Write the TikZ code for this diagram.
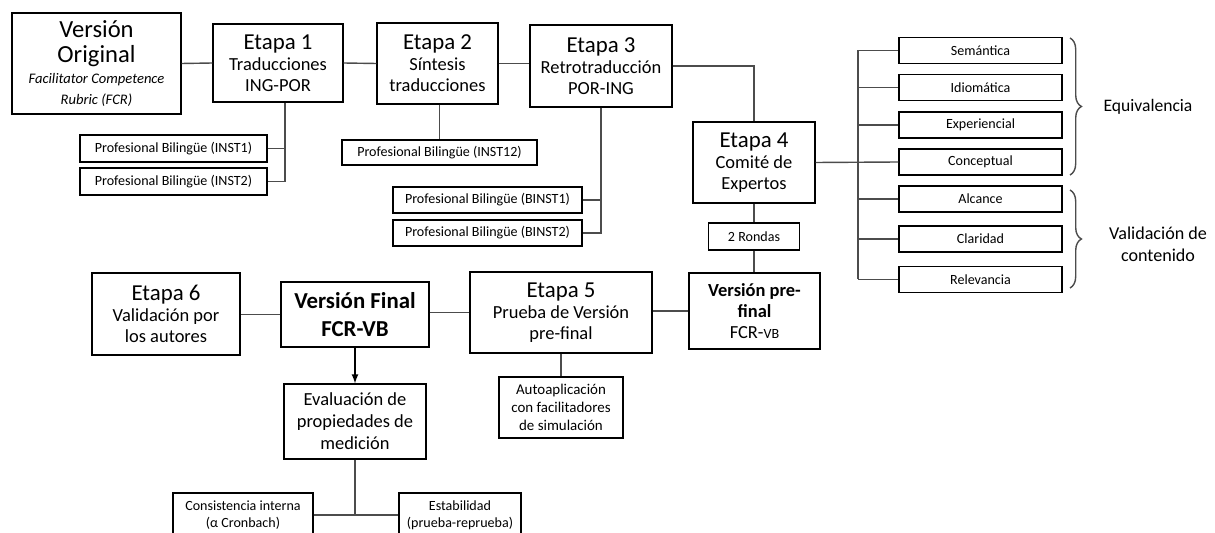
\documentclass[tikz,border=0pt]{standalone}
\usepackage{fontspec}
\setmainfont{Carlito}
\usetikzlibrary{decorations.pathreplacing}

\newcommand\etapafont{\fontsize{13}{15.5}\selectfont}
\newcommand\origfont{\fontsize{14}{16.5}\selectfont}
\newcommand\textofont{\fontsize{10.5}{12.5}\selectfont}
\newcommand\notafont{\fontsize{8}{9.6}\selectfont}

\begin{document}
\begin{tikzpicture}[x=0.02cm, y=-0.02cm,
    caja/.style={draw, line width=0.6pt, align=center, inner sep=1pt},
    tam/.style 2 args={minimum width=#1*0.02cm, minimum height=#2*0.02cm},
    linea/.style={draw=black!70, line width=0.8pt},
    llave/.style={draw=black!70, line width=0.8pt, decorate, decoration={brace, amplitude=6.5pt}}]

	\useasboundingbox (0,0) rectangle (1215,533);
	\clip (0,0) rectangle (1215,533);

	% etapas 1 a 3
	\node[caja, tam={169}{101}] (orig) at (96.5,63.5) {\origfont Versión\\[2pt] \origfont Original\\ \fontsize{8.3}{9.6}\selectfont\itshape Facilitator Competence\\ \fontsize{8.3}{9.6}\selectfont\itshape Rubric (FCR)};
	\node[caja, tam={130}{78}] (e1) at (278,63) {\etapafont Etapa 1\\ \textofont Traducciones\\ \textofont ING-POR};
	\node[caja, tam={121}{81}] (e2) at (437.5,63.5) {\etapafont Etapa 2\\ \textofont Síntesis\\ \textofont traducciones};
	\node[caja, tam={142}{82}] (e3) at (601,66) {\etapafont Etapa 3\\ \textofont Retrotraducción\\ \textofont POR-ING};

	% profesionales
	\node[caja, tam={187}{27}, font=\notafont] (inst1) at (173.5,148.5) {Profesional Bilingüe (INST1)};
	\node[caja, tam={187}{27}, font=\notafont] (inst2) at (173.5,181.5) {Profesional Bilingüe (INST2)};
	\node[caja, tam={195}{25}, font=\notafont] (inst12) at (439.5,152.5) {Profesional Bilingüe (INST12)};
	\node[caja, tam={189}{26}, font=\notafont] (binst1) at (487.5,200) {Profesional Bilingüe (BINST1)};
	\node[caja, tam={189}{26}, font=\notafont] (binst2) at (487.5,233) {Profesional Bilingüe (BINST2)};

	% etapa 4 y comite
	\node[caja, tam={122}{81}] (e4) at (754,162.5) {\etapafont Etapa 4\\ \textofont Comité de\\ \textofont Expertos};
	\node[caja, tam={91}{27}, font=\notafont] (rondas) at (754,236.5) {2 Rondas};
	\node[caja, tam={131}{76}] (pre) at (754.5,311) {\textofont\bfseries Versión pre-\\ \textofont\bfseries final\\ \textofont FCR-{\notafont VB}};

	% criterios
	\node[caja, tam={163}{26}, font=\notafont] (sem) at (980.5,50.5) {Semántica};
	\node[caja, tam={163}{26}, font=\notafont] (idio) at (980.5,87.5) {Idiomática};
	\node[caja, tam={163}{26}, font=\notafont] (expe) at (980.5,125) {Experiencial};
	\node[caja, tam={163}{26}, font=\notafont] (conc) at (980.5,162) {Conceptual};
	\node[caja, tam={163}{26}, font=\notafont] (alc) at (980.5,199) {Alcance};
	\node[caja, tam={163}{26}, font=\notafont] (clar) at (980.5,239) {Claridad};
	\node[caja, tam={163}{26}, font=\notafont] (rel) at (980.5,279.5) {Relevancia};
	\node[font=\fontsize{10}{12}\selectfont] (equiv) at (1148,107) {Equivalencia};
	\node[font=\fontsize{10.3}{12.5}\selectfont, align=center] (valid) at (1158,244) {Validación de\\contenido};

	% etapas 5 y 6
	\node[caja, tam={182}{81}] (e5) at (561,312.5) {\etapafont Etapa 5\\ \textofont Prueba de Versión\\ \textofont pre-final};
	\node[caja, tam={124}{61}, font=\fontsize{8.5}{10.2}\selectfont] (auto) at (561,407.5) {Autoaplicación\\con facilitadores\\de simulación};
	\node[caja, tam={148}{65}, font=\etapafont\bfseries] (vf) at (355,314.5) {Versión Final\\FCR-VB};
	\node[caja, tam={148}{82}] (e6) at (166,314) {\etapafont Etapa 6\\ \textofont Validación por\\ \textofont los autores};
	\node[caja, tam={142}{75}, font=\textofont] (eval) at (355,421.5) {Evaluación de\\propiedades de\\medición};
	\node[caja, tam={140}{44}, font=\notafont] (cons) at (243,515) {Consistencia interna\\(α Cronbach)};
	\node[caja, tam={122}{44}, font=\notafont] (estab) at (460,515) {Estabilidad\\(prueba-reprueba)};

	% conectores
	\coordinate (j1) at (285,0);
	\coordinate (bus) at (858,0);
	\draw[linea] (orig.east) -- (e1.west);
	\draw[linea] (e1.east) -- (e2.west);
	\draw[linea] (e2.east) -- (e2.east -| e3.west);
	\draw[linea] (e3.east) -| (e4.north);
	\draw[linea] (e1.south -| j1) |- (inst2.east);
	\draw[linea] (inst1.east) -- (inst1.east -| j1);
	\draw[linea] (e2.south -| inst12.north) -- (inst12.north);
	\draw[linea] (e3.south) |- (binst2.east);
	\draw[linea] (binst1.east) -- (binst1.east -| e3.south);
	\draw[linea] (e4.south) -- (rondas.north);
	\draw[linea] (rondas.south) -- (rondas.south |- pre.north);
	\draw[linea] (e4.east) -- (conc.west);
	\draw[linea] (sem.west -| bus) -- (rel.west -| bus);
	\foreach \c in {sem,idio,expe,alc,clar,rel}
		\draw[linea] (\c.west -| bus) -- (\c.west);
	\draw[linea] (pre.west) -- (pre.west -| e5.east);
	\draw[linea] (e5.west) -- (e5.west -| vf.east);
	\draw[linea] (vf.west) -- (vf.west -| e6.east);
	\draw[linea] (e5.south) -- (auto.north);
	\draw[line width=0.8pt, -latex] (vf.south) -- (eval.north);
	\draw[linea] (eval.south) -- (eval.south |- cons.east);
	\draw[linea] (cons.east) -- (estab.west);

	% llaves
	\draw[llave] (1070,38) -- (1070,175);
	\draw[llave] (1070,190) -- (1070,288);

\end{tikzpicture}
\end{document}
